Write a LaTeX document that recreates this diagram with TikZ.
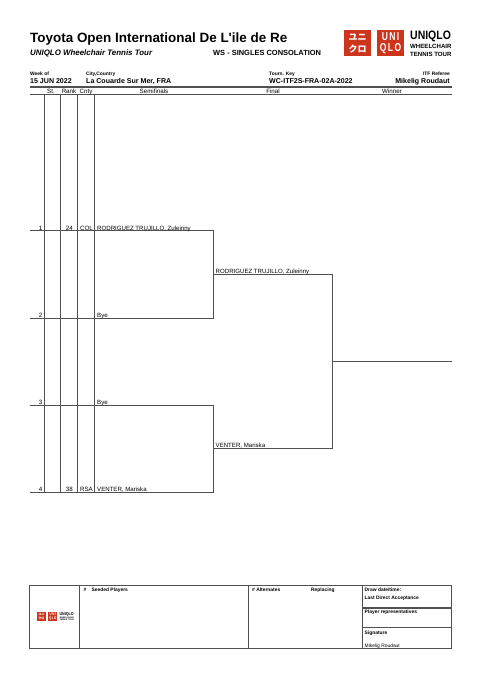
\documentclass[tikz,border=0pt]{standalone}
\usepackage{fontspec}
\setmainfont{Liberation Sans}
\newfontfamily\cjk{Noto Sans CJK JP}
\usetikzlibrary{positioning}
\definecolor{uniqlored}{RGB}{205,52,28}
\definecolor{rulegrey}{RGB}{80,80,80}
\newcommand{\fsz}[1]{\fontsize{#1}{#1}\selectfont}
\begin{document}
\begin{tikzpicture}[x=1pt,y=-1pt,
  ln/.style={draw=rulegrey,line width=0.85pt},
  hv/.style={draw=rulegrey,line width=1.1pt},
  lab/.style={anchor=base west,inner sep=0pt,font=\fsz{6.1}},
  ctr/.style={anchor=base,inner sep=0pt,font=\fsz{6.2}},
  tiny/.style={anchor=base west,inner sep=0pt,font=\fsz{4.9}\bfseries},
  inf/.style={anchor=base west,inner sep=0pt,font=\fsz{7.05}\bfseries},
  sq/.style={fill=uniqlored,inner sep=0pt,minimum size=26.5pt,transform shape},
  kana/.style={text=white,inner sep=0pt,transform shape}]
\useasboundingbox (0,0) rectangle (479,678);
% Logo, dibujado una vez y reducido abajo.
\newcommand{\logotour}[1]{%
  \node[sq] (#1a) at (13.5,13) {};
  \node[sq] (#1b) at (46.5,13) {};
  \node[kana,font=\cjk\fsz{9}\bfseries] (#1c) at (13.5,7) {ユニ};
  \node[kana,font=\cjk\fsz{9}\bfseries] (#1d) at (13.5,18.6) {クロ};
  \node[kana,font=\fsz{11.5}\bfseries,xscale=0.74] (#1e) at (46.5,7) {U\,N\,I};
  \node[kana,font=\fsz{11.5}\bfseries,xscale=0.74] (#1f) at (46.5,18.6) {Q\,L\,O};
  \node[anchor=base west,inner sep=0pt,transform shape,xscale=0.86,font=\fsz{12.2}\bfseries] (#1g) at (66,9.5) {UNIQLO};
  \node[anchor=base west,inner sep=0pt,transform shape,font=\fsz{6.1}\bfseries] (#1h) at (66,18.2) {WHEELCHAIR};
  \node[anchor=base west,inner sep=0pt,transform shape,font=\fsz{6.1}\bfseries] (#1i) at (66,26) {TENNIS TOUR};}
% Cabecera
\node[anchor=base west,inner sep=0pt,font=\fsz{13.45}\bfseries] (title) at (30,42.5) {Toyota Open International De L\textquotesingle ile de Re};
\node[anchor=base west,inner sep=0pt,font=\fsz{7.9}\bfseries\itshape] (tour) at (30,55) {UNIQLO Wheelchair Tennis Tour};
\node[anchor=base west,inner sep=0pt,font=\fsz{7.45}\bfseries] (event) at (213,55) {WS - SINGLES CONSOLATION};
\begin{scope}[shift={(344,30)}]
\logotour{big}
\end{scope}
\node[tiny] (weekl) at (30,75) {Week of};
\node[inf] (week) at (30,83.5) {15 JUN 2022};
\node[tiny] (cityl) at (86,75) {City,Country};
\node[inf] (city) at (86,83.5) {La Couarde Sur Mer, FRA};
\node[tiny] (keyl) at (269,75) {Tourn. Key};
\node[inf] (key) at (269,83.5) {WC-ITF2S-FRA-02A-2022};
\node[tiny,anchor=base east] (refl) at (450,75) {ITF Referee};
\node[inf,anchor=base east] (ref) at (450,83.5) {Mikelig Roudaut};
\coordinate (ta) at (29.5,87); \coordinate (tb) at (451.5,87);
\coordinate (ua) at (29.5,94.5); \coordinate (ub) at (451.5,94.5);
\draw[draw=rulegrey,line width=1.5pt] (ta)--(tb);
\draw[hv] (ua)--(ub);
\node[ctr] (hst) at (51,93) {St.};
\node[ctr] (hrk) at (69,93) {Rank};
\node[ctr] (hcn) at (86,93) {Cnty};
\node[ctr] (hsf) at (154,93) {Semifinals};
\node[ctr] (hfi) at (273,93) {Final};
\node[ctr] (hwi) at (392,93) {Winner};
% Columnas
\coordinate (ca) at (44.3,94.5); \coordinate (cA) at (44.3,492.7);
\coordinate (cb) at (60.4,94.5); \coordinate (cB) at (60.4,492.7);
\coordinate (cc) at (77.8,94.5); \coordinate (cC) at (77.8,492.7);
\coordinate (cd) at (94.6,94.5); \coordinate (cD) at (94.6,492.7);
\draw[ln] (ca)--(cA); \draw[ln] (cb)--(cB); \draw[ln] (cc)--(cC); \draw[hv] (cd)--(cD);
% Cuadro
\coordinate (pa) at (29.5,230.9); \coordinate (pb) at (29.5,318.2);
\coordinate (pc) at (29.5,405.2); \coordinate (pd) at (29.5,492.7);
\coordinate (sa) at (213.8,230.9); \coordinate (sb) at (213.8,318.2);
\coordinate (sc) at (213.8,405.2); \coordinate (sd) at (213.8,492.7);
\coordinate (fa) at (213.8,274.5); \coordinate (fb) at (213.8,448.5);
\coordinate (ga) at (332.7,274.5); \coordinate (gb) at (332.7,448.5);
\coordinate (wa) at (332.7,361.4); \coordinate (wb) at (452,361.4);
\draw[ln] (pa)--(sa)--(sb)--(pb);
\draw[ln] (pc)--(sc)--(sd)--(pd);
\draw[ln] (fa)--(ga)--(gb)--(fb);
\draw[ln] (wa)--(wb);
\node[ctr,anchor=base east] (no1) at (42.5,230) {1};
\node[ctr,anchor=base east] (no2) at (42.5,317.3) {2};
\node[ctr,anchor=base east] (no3) at (42.5,404.3) {3};
\node[ctr,anchor=base east] (no4) at (42.5,491.8) {4};
\node[ctr,anchor=base east] (rk1) at (73,230) {24};
\node[ctr,anchor=base east] (rk4) at (73,491.8) {38};
\node[ctr] (cn1) at (86.5,230) {COL};
\node[ctr] (cn4) at (86.5,491.8) {RSA};
\node[lab] (pl1) at (97,230) {RODRIGUEZ TRUJILLO, Zuleinny};
\node[lab] (pl2) at (97,317.3) {Bye};
\node[lab] (pl3) at (97,404.3) {Bye};
\node[lab] (pl4) at (97,491.8) {VENTER, Mariska};
\node[lab] (fi1) at (215.5,273.7) {RODRIGUEZ TRUJILLO, Zuleinny};
\node[lab] (fi2) at (215.5,447.7) {VENTER, Mariska};
% Pie
\coordinate (ba) at (29.5,585); \coordinate (bb) at (451,648.5);
\coordinate (va) at (79.6,585); \coordinate (vA) at (79.6,648.5);
\coordinate (vb) at (248.8,585); \coordinate (vB) at (248.8,648.5);
\coordinate (vc) at (362.7,585); \coordinate (vC) at (362.7,648.5);
\coordinate (ha) at (362.7,608); \coordinate (hA) at (451,608);
\coordinate (hb) at (362.7,627.8); \coordinate (hB) at (451,627.8);
\draw[ln] (ba) rectangle (bb);
\draw[hv] (va)--(vA); \draw[hv] (vb)--(vB); \draw[ln] (vc)--(vC);
\draw[hv] (ha)--(hA); \draw[ln] (hb)--(hB);
\draw[hv] (ha)--(hb);
\begin{scope}[shift={(36.7,612)},scale=0.345]
\logotour{sml}
\end{scope}
\node[tiny] (seedn) at (83.5,591.3) {\#};
\node[tiny] (seed) at (91.5,591.3) {Seeded Players};
\node[tiny] (altn) at (252,591.3) {\# Alternates};
\node[tiny] (repl) at (311,591.3) {Replacing};
\node[tiny] (drawd) at (364.5,591.3) {Draw date/time:};
\node[tiny] (lda) at (364.5,599.3) {Last Direct Acceptance};
\node[tiny] (prep) at (364.5,613) {Player representatives};
\node[tiny] (sign) at (364.5,634) {Signature};
\node[tiny,font=\fsz{4.9}] (sgn) at (364.5,647.3) {Mikelig Roudaut};
\end{tikzpicture}
\end{document}
